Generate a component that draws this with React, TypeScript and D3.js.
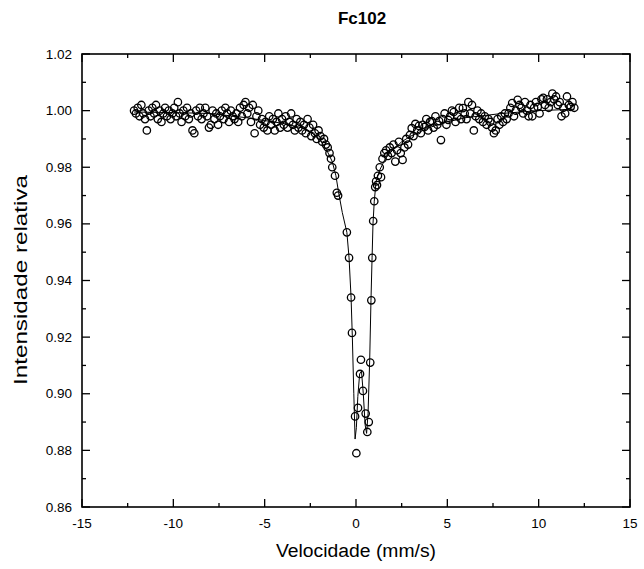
import React from 'react';
import * as d3 from 'd3';

const W = 644;
const H = 569;
const PL = 82, PR = 630, PT = 54, PB = 507;

const title = 'Fc102';
const xLabel = 'Velocidade (mm/s)';
const yLabel = 'Intensidade relativa';

const xMajorTicks = [-15, -10, -5, 0, 5, 10, 15];
const xMinorTicks = [-12.5, -7.5, -2.5, 2.5, 7.5, 12.5];
const yMajorTicks = [0.86, 0.88, 0.9, 0.92, 0.94, 0.96, 0.98, 1.0, 1.02];
const yMinorTicks = [0.87, 0.89, 0.91, 0.93, 0.95, 0.97, 0.99, 1.01];

const velocity = [
  -12.15, -12.05, -11.95, -11.85, -11.75, -11.65, -11.55, -11.45, -11.35, -11.25,
  -11.15, -11.05, -10.95, -10.85, -10.75, -10.65, -10.55, -10.45, -10.35, -10.25,
  -10.15, -10.05, -9.95, -9.85, -9.75, -9.65, -9.55, -9.45, -9.35, -9.25,
  -9.15, -9.05, -8.95, -8.85, -8.75, -8.65, -8.55, -8.45, -8.35, -8.25,
  -8.15, -8.05, -7.95, -7.85, -7.75, -7.65, -7.55, -7.45, -7.35, -7.25,
  -7.15, -7.05, -6.95, -6.85, -6.75, -6.65, -6.55, -6.45, -6.35, -6.25,
  -6.15, -6.05, -5.95, -5.85, -5.75, -5.65, -5.55, -5.45, -5.35, -5.25,
  -5.15, -5.05, -4.95, -4.85, -4.75, -4.65, -4.55, -4.45, -4.35, -4.25,
  -4.15, -4.05, -3.95, -3.85, -3.75, -3.65, -3.55, -3.45, -3.35, -3.25,
  -3.15, -3.05, -2.95, -2.85, -2.75, -2.65, -2.55, -2.45, -2.35, -2.25,
  -2.15, -2.05, -1.95, -1.85, -1.75, -1.65, -1.55, -1.45, -1.37, -1.3,
  -1.15, -1.05, -0.98, -0.5, -0.38, -0.27, -0.22, -0.05, 0.02, 0.11,
  0.22, 0.27, 0.38, 0.53, 0.62, 0.7, 0.78, 0.84, 0.89, 0.94,
  1.0, 1.05, 1.1, 1.15, 1.2, 1.3, 1.37, 1.45, 1.55, 1.65,
  1.75, 1.85, 1.95, 2.05, 2.15, 2.25, 2.35, 2.45, 2.55, 2.65,
  2.75, 2.85, 2.95, 3.05, 3.15, 3.25, 3.35, 3.45, 3.55, 3.65,
  3.75, 3.85, 3.95, 4.05, 4.15, 4.25, 4.35, 4.45, 4.55, 4.65,
  4.75, 4.85, 4.95, 5.05, 5.15, 5.25, 5.35, 5.45, 5.55, 5.65,
  5.75, 5.85, 5.95, 6.05, 6.15, 6.25, 6.35, 6.45, 6.55, 6.65,
  6.75, 6.85, 6.95, 7.05, 7.15, 7.25, 7.35, 7.45, 7.55, 7.65,
  7.75, 7.85, 7.95, 8.05, 8.15, 8.25, 8.35, 8.45, 8.55, 8.65,
  8.75, 8.85, 8.95, 9.05, 9.15, 9.25, 9.35, 9.45, 9.55, 9.65,
  9.75, 9.85, 9.95, 10.05, 10.15, 10.25, 10.35, 10.45, 10.55, 10.65,
  10.75, 10.85, 10.95, 11.05, 11.15, 11.25, 11.35, 11.45, 11.55, 11.65,
  11.75, 11.85, 11.95,
];

const intensity = [
  1.000, 0.999, 1.001, 0.998, 1.002, 0.999, 0.997, 0.993, 1.000, 0.998,
  1.001, 0.999, 1.002, 0.997, 1.000, 0.996, 0.999, 1.001, 0.998, 1.000,
  0.997, 0.999, 1.001, 0.998, 1.003, 0.999, 0.996, 1.000, 0.998, 1.001,
  0.997, 0.999, 0.993, 0.992, 1.000, 0.998, 1.001, 0.997, 0.999, 1.001,
  0.998, 0.994, 0.995, 1.000, 0.997, 0.999, 0.995, 0.998, 1.000, 0.997,
  1.001, 0.999, 0.996, 1.000, 0.998, 0.997, 0.999, 0.996, 1.001, 0.998,
  1.002, 1.003, 0.999, 1.001, 0.996, 1.002, 0.992, 0.998, 1.000, 0.995,
  0.997, 0.994, 0.996, 0.993, 0.998, 0.995, 0.997, 0.993, 0.996, 0.999,
  0.994, 0.997, 0.995, 0.998, 0.994, 0.996, 0.999, 0.995, 0.993, 0.997,
  0.994, 0.996, 0.993, 0.995, 0.992, 0.997, 0.994, 0.991, 0.995, 0.992,
  0.990, 0.993, 0.991, 0.989, 0.990, 0.988, 0.987, 0.985, 0.983, 0.980,
  0.977, 0.971, 0.970, 0.957, 0.948, 0.934, 0.9215, 0.892, 0.879, 0.895,
  0.907, 0.912, 0.901, 0.893, 0.8865, 0.890, 0.911, 0.933, 0.948, 0.961,
  0.968, 0.973, 0.975, 0.9737, 0.977, 0.980, 0.9765, 0.983, 0.985, 0.986,
  0.984, 0.987, 0.985, 0.988, 0.982, 0.986, 0.989, 0.985, 0.9826, 0.987,
  0.990, 0.988, 0.9914, 0.9938, 0.991, 0.9953, 0.993, 0.9946, 0.992, 0.995,
  0.9942, 0.997, 0.993, 0.996, 0.9963, 0.994, 0.998, 0.995, 0.9963, 0.9896,
  0.997, 0.999, 0.995, 0.9967, 0.998, 1.000, 0.9995, 0.996, 0.998, 1.001,
  0.997, 1.0009, 0.999, 0.997, 1.003, 0.999, 1.002, 0.993, 0.998, 1.000,
  0.997, 0.999, 0.996, 0.998, 0.995, 0.997, 0.996, 0.994, 0.992, 0.993,
  0.997, 0.995, 0.998, 0.996, 0.999, 0.997, 0.999, 1.001, 1.0027, 0.998,
  1.000, 1.0038, 1.002, 1.001, 0.999, 1.003, 1.000, 0.998, 1.002, 0.998,
  1.001, 1.003, 1.0013, 0.999, 1.004, 1.0045, 1.002, 1.004, 1.001, 1.003,
  1.006, 1.004, 1.005, 1.002, 1.003, 0.998, 1.001, 0.999, 1.005, 1.002,
  1.0013, 1.003, 1.001,
];

const fitVelocity = [
  -12.15, -10, -8, -6, -5, -4, -3, -2.5, -2, -1.6, -1.3, -1.1, -0.95, -0.75,
  -0.5, -0.38, -0.27, -0.2, -0.12, -0.05, 0.02, 0.1, 0.2, 0.3, 0.4, 0.5, 0.58,
  0.66, 0.75, 0.82, 0.88, 0.93, 1.0, 1.1, 1.3, 1.6, 2.0, 2.5, 3, 4, 5, 6, 8, 10, 11.95,
];
const fitIntensity = [
  0.9995, 0.9993, 0.999, 0.9975, 0.9965, 0.9955, 0.994, 0.9925, 0.990, 0.986, 0.982, 0.977, 0.971, 0.964,
  0.957, 0.948, 0.934, 0.920, 0.900, 0.884, 0.888, 0.899, 0.907, 0.908, 0.900, 0.889, 0.886,
  0.893, 0.912, 0.933, 0.948, 0.960, 0.968, 0.975, 0.979, 0.983, 0.986, 0.989, 0.991, 0.994, 0.996, 0.9975, 0.999, 1.000, 1.0005,
];

export default function App() {
  const x = d3.scaleLinear().domain([-15, 15]).range([PL, PR]);
  const y = d3.scaleLinear().domain([0.86, 1.02]).range([PB, PT]);
  const fitLine = d3
    .line<number>()
    .x((_, i) => x(fitVelocity[i]))
    .y((d) => y(d));
  const font = '"Liberation Sans", Arial, sans-serif';
  const majorLen = 8;
  const minorLen = 4;

  return (
    <svg
      width={W}
      height={H}
      style={{ position: 'absolute', left: 0, top: 0, background: '#fff' }}
    >
      <rect x={0} y={0} width={W} height={H} fill="#fff" />
      <text x={362} y={24} textAnchor="middle" fontFamily={font} fontWeight="bold" fontSize={17}>
        {title}
      </text>

      <path d={fitLine(fitIntensity) || ''} fill="none" stroke="#000" strokeWidth={1} />

      {velocity.map((v, i) => (
        <circle
          key={i}
          cx={x(v)}
          cy={y(intensity[i])}
          r={3.7}
          fill="none"
          stroke="#000"
          strokeWidth={1.3}
        />
      ))}

      <rect x={PL} y={PT} width={PR - PL} height={PB - PT} fill="none" stroke="#000" strokeWidth={1.6} />

      {xMajorTicks.map((t) => (
        <g key={'xM' + t}>
          <line x1={x(t)} x2={x(t)} y1={PB} y2={PB - majorLen} stroke="#000" strokeWidth={1.3} />
          <line x1={x(t)} x2={x(t)} y1={PT} y2={PT + majorLen} stroke="#000" strokeWidth={1.3} />
          <text x={x(t)} y={PB + 21} textAnchor="middle" fontFamily={font} fontSize={13.5}>
            {t < 0 ? '-' + Math.abs(t) : String(t)}
          </text>
        </g>
      ))}
      {xMinorTicks.map((t) => (
        <g key={'xm' + t}>
          <line x1={x(t)} x2={x(t)} y1={PB} y2={PB - minorLen} stroke="#000" strokeWidth={1.3} />
          <line x1={x(t)} x2={x(t)} y1={PT} y2={PT + minorLen} stroke="#000" strokeWidth={1.3} />
        </g>
      ))}
      {yMajorTicks.map((t) => (
        <g key={'yM' + t}>
          <line x1={PL} x2={PL + majorLen} y1={y(t)} y2={y(t)} stroke="#000" strokeWidth={1.3} />
          <line x1={PR} x2={PR - majorLen} y1={y(t)} y2={y(t)} stroke="#000" strokeWidth={1.3} />
          <text x={PL - 10} y={y(t) + 4.5} textAnchor="end" fontFamily={font} fontSize={13.5}>
            {t.toFixed(2)}
          </text>
        </g>
      ))}
      {yMinorTicks.map((t) => (
        <g key={'ym' + t}>
          <line x1={PL} x2={PL + minorLen} y1={y(t)} y2={y(t)} stroke="#000" strokeWidth={1.3} />
          <line x1={PR} x2={PR - minorLen} y1={y(t)} y2={y(t)} stroke="#000" strokeWidth={1.3} />
        </g>
      ))}

      <text
        x={356}
        y={557}
        textAnchor="middle"
        fontFamily={font}
        fontSize={18}
        textLength={160}
        lengthAdjust="spacingAndGlyphs"
      >
        {xLabel}
      </text>
      <text
        transform={`translate(27, 280) rotate(-90)`}
        textAnchor="middle"
        fontFamily={font}
        fontSize={18}
        textLength={210}
        lengthAdjust="spacingAndGlyphs"
      >
        {yLabel}
      </text>
    </svg>
  );
}
